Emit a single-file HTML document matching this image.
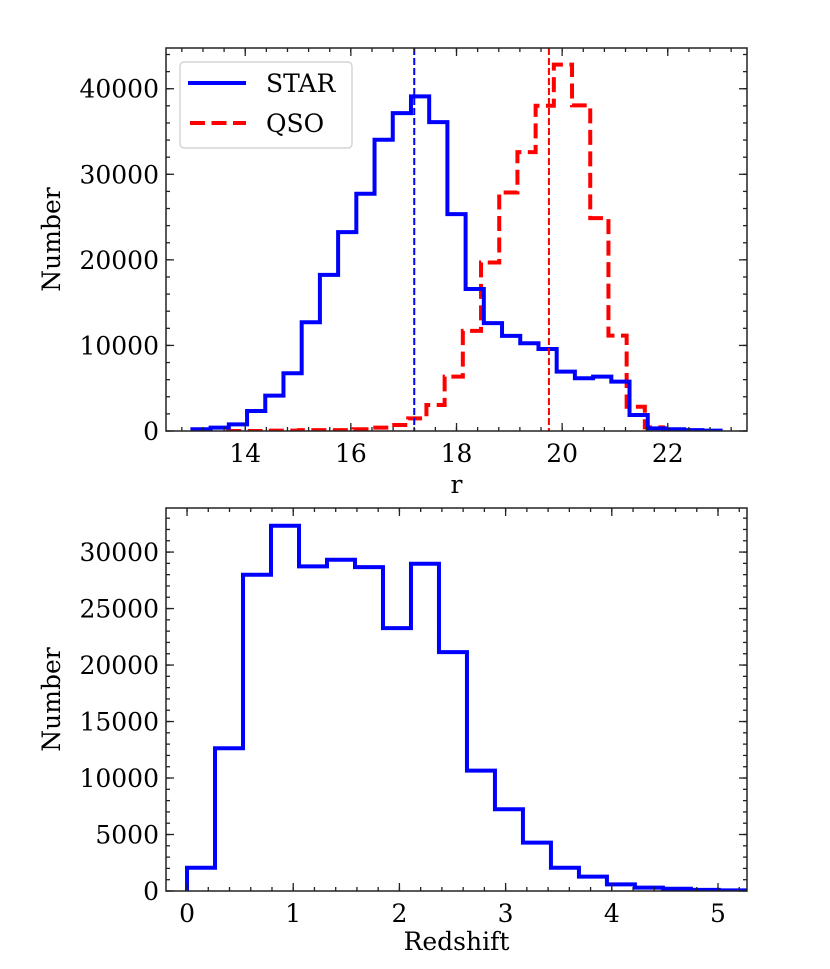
<!DOCTYPE html>
<html><head><meta charset="utf-8"><style>
html,body{margin:0;padding:0;background:#fff;}
svg{display:block;font-family:"DejaVu Serif","Liberation Serif",serif;}
</style></head><body>
<svg id="fig" width="830" height="969" viewBox="0 0 830 969" xmlns="http://www.w3.org/2000/svg"></svg>
<script>
// ---- Top panel data (r magnitude histograms) ----
const starStart = 13.0;
const starWidth = 10/29;
const starCounts = [200,400,780,2340,4130,6750,12710,18250,23240,27720,34040,37150,39100,36100,25340,16600,12600,11110,10250,9590,6940,6160,6350,5770,1870,300,200,100,50];
const qsoStart = 13.64;
const qsoWidth = 0.3446;
const qsoCounts = [0,0,50,50,100,100,100,200,400,700,1480,3040,6350,11700,19690,27880,32590,38010,42810,38050,24880,11150,2840,430];
const starMedian = 17.2;
const qsoMedian = 19.75;
const topXTicks = [14,16,18,20,22];
const topYTicks = [0,10000,20000,30000,40000];
// ---- Bottom panel data (redshift histogram) ----
const zStart = 0;
const zWidth = 0.2636;
const zCounts = [2060,12640,27990,32330,28730,29320,28670,23270,28960,21140,10660,7240,4280,2060,1270,590,300,200,100,60];
const botXTicks = [0,1,2,3,4,5];
const botYTicks = [0,5000,10000,15000,20000,25000,30000];

const FS = 25;
const NS="http://www.w3.org/2000/svg";
const svgRoot=document.getElementById('fig');
function el(tag,attrs,parent){const e=document.createElementNS(NS,tag);for(const k in attrs)e.setAttribute(k,attrs[k]);(parent||svgRoot).appendChild(e);return e;}

function makeAxes(name,box,xr,yr,xMinor,yMinor){
  const g=el('g',{});
  
  
  const sx=v=>box.x0+(v-xr[0])/(xr[1]-xr[0])*(box.x1-box.x0);
  const sy=v=>box.y1-(v-yr[0])/(yr[1]-yr[0])*(box.y1-box.y0);
  const cid='clip-'+name;
  const defs=el('defs',{},g);
  const cp=el('clipPath',{id:cid},defs);
  el('rect',{x:box.x0,y:box.y0,width:box.x1-box.x0,height:box.y1-box.y0},cp);
  const plot=el('g',{'clip-path':'url(#'+cid+')'},g);
  
  
  return {g,plot,sx,sy,box,xr,yr,xMinor,yMinor};
}
function drawFrame(ax,xTicks,yTicks,xlabel,ylabel,xlabY){
  const {g,sx,sy,box,xr,yr}=ax;
  const tk=el('g',{stroke:'#222','stroke-width':1.3},g);
  
  
  for(let i=Math.ceil(xr[0]/ax.xMinor);i*ax.xMinor<=xr[1]+1e-9;i++){
    const x=sx(i*ax.xMinor);
    el('line',{x1:x,x2:x,y1:box.y1,y2:box.y1-4},tk);
    el('line',{x1:x,x2:x,y1:box.y0,y2:box.y0+4},tk);
  }
  for(let i=Math.ceil(yr[0]/ax.yMinor);i*ax.yMinor<=yr[1]+1e-9;i++){
    const y=sy(i*ax.yMinor);
    el('line',{x1:box.x0,x2:box.x0+4,y1:y,y2:y},tk);
    el('line',{x1:box.x1,x2:box.x1-4,y1:y,y2:y},tk);
  }
  xTicks.forEach(v=>{
    const x=sx(v);
    el('line',{x1:x,x2:x,y1:box.y1,y2:box.y1-8},tk);
    el('line',{x1:x,x2:x,y1:box.y0,y2:box.y0+8},tk);
    const t=el('text',{x:x,y:box.y1+31,'text-anchor':'middle','font-size':FS,fill:'#000'},g);
    t.textContent=String(v);
    
    
  });
  yTicks.forEach(v=>{
    const y=sy(v);
    el('line',{x1:box.x0,x2:box.x0+8,y1:y,y2:y},tk);
    el('line',{x1:box.x1,x2:box.x1-8,y1:y,y2:y},tk);
    const t=el('text',{x:box.x0-7,y:y+9,'text-anchor':'end','font-size':FS,fill:'#000'},g);
    t.textContent=String(v);
    
    
  });
  const fr=el('rect',{x:box.x0,y:box.y0,width:box.x1-box.x0,height:box.y1-box.y0,fill:'none',stroke:'#222','stroke-width':1.5},g);
  
  
  const xl=el('text',{x:(box.x0+box.x1)/2,y:xlabY,'text-anchor':'middle','font-size':FS,fill:'#000'},g);
  xl.textContent=xlabel;
  
  
  const cy=(box.y0+box.y1)/2;
  const yl=el('text',{x:60,y:cy,'text-anchor':'middle','font-size':FS,fill:'#000',transform:'rotate(-90 60 '+cy+')'},g);
  yl.textContent=ylabel;
  
  
}
function stepPath(ax,start,width,counts){
  let d='M'+ax.sx(start)+','+ax.sy(0);
  counts.forEach((c,i)=>{
    const x0=ax.sx(start+i*width),x1=ax.sx(start+(i+1)*width),y=ax.sy(c);
    d+=' L'+x0+','+y+' L'+x1+','+y;
  });
  d+=' L'+ax.sx(start+counts.length*width)+','+ax.sy(0);
  return d;
}

// ---- Top panel ----
const topAx=makeAxes('r-histogram-panel',{x0:166,x1:747,y0:48,y1:431},[12.5,23.5],[0,44760],0.4,2000);
const qp=el('path',{d:stepPath(topAx,qsoStart,qsoWidth,qsoCounts),fill:'none',stroke:'#ff0000','stroke-width':4,'stroke-dasharray':'15,6.5'},topAx.plot);


const sp=el('path',{d:stepPath(topAx,starStart,starWidth,starCounts),fill:'none',stroke:'#0000ff','stroke-width':4},topAx.plot);


const sm=el('line',{x1:topAx.sx(starMedian),x2:topAx.sx(starMedian),y1:topAx.box.y0,y2:topAx.box.y1,stroke:'#0000ff','stroke-width':2,'stroke-dasharray':'7,3'},topAx.plot);


const qm=el('line',{x1:topAx.sx(qsoMedian),x2:topAx.sx(qsoMedian),y1:topAx.box.y0,y2:topAx.box.y1,stroke:'#ff0000','stroke-width':2,'stroke-dasharray':'7,3'},topAx.plot);


drawFrame(topAx,topXTicks,topYTicks,'r','Number',493);

// legend
const lg=el('g',{},topAx.g);


el('rect',{x:180,y:62,width:172,height:86,rx:4,fill:'#fff','fill-opacity':0.8,stroke:'#cccccc','stroke-width':1.2},lg);
const l1=el('line',{x1:188,x2:246,y1:83,y2:83,stroke:'#0000ff','stroke-width':4},lg);


const t1=el('text',{x:266,y:92,'font-size':FS,fill:'#000'},lg);
t1.textContent='STAR';


const l2=el('line',{x1:190,x2:246,y1:123,y2:123,stroke:'#ff0000','stroke-width':4,'stroke-dasharray':'15,6.5'},lg);


const t2=el('text',{x:266,y:132,'font-size':FS,fill:'#000'},lg);
t2.textContent='QSO';



// ---- Bottom panel ----
const botAx=makeAxes('redshift-histogram-panel',{x0:166,x1:747,y0:508,y1:891},[-0.198,5.273],[0,33900],0.2,1000);
const zp=el('path',{d:stepPath(botAx,zStart,zWidth,zCounts),fill:'none',stroke:'#0000ff','stroke-width':4},botAx.plot);


drawFrame(botAx,botXTicks,botYTicks,'Redshift','Number',950);
</script>
</body></html>
